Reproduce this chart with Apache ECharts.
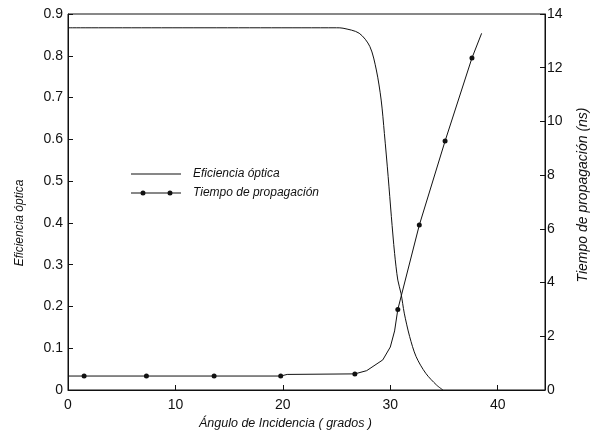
<!DOCTYPE html>
<html>
<head>
<meta charset="utf-8">
<script src="https://cdn.jsdelivr.net/npm/echarts@6/dist/echarts.min.js"></script>
<style>
  html, body { margin: 0; padding: 0; background: #fff; }
  #main { width: 598px; height: 435px; }
</style>
</head>
<body>
<div id="main"></div>
<script>
// Eficiencia óptica (eje izquierdo)
var efAngulo = [0, 25.0, 25.6, 27.1, 28.1, 28.7, 29.15, 29.45, 29.8, 30.1, 30.4, 30.7, 31.0, 31.3, 31.8, 32.4, 33.3, 34.3, 34.9];
var efValor  = [0.867, 0.867, 0.866, 0.854, 0.822, 0.766, 0.694, 0.614, 0.511, 0.415, 0.327, 0.263, 0.231, 0.184, 0.128, 0.080, 0.040, 0.012, 0];

// Tiempo de propagación (eje derecho, ns)
var tpAngulo = [0, 1.5, 7.3, 13.6, 19.8, 20.4, 26.7, 27.8, 29.3, 30.0, 30.4, 30.7, 32.7, 35.1, 37.6, 38.5];
var tpValor  = [0.52, 0.52, 0.52, 0.52, 0.52, 0.58, 0.6, 0.72, 1.12, 1.6, 2.2, 3.0, 6.14, 9.27, 12.36, 13.28];
var tpMarca  = [false, true, true, true, true, false, true, false, false, false, false, true, true, true, true, false];

var nombres = ['Eficiencia óptica', 'Tiempo de propagación'];

var fuente = 'Liberation Sans, Arial, sans-serif';
var negro = '#111';

var efData = efAngulo.map(function (x, i) { return [x, efValor[i]]; });
var tpData = tpAngulo.map(function (x, i) {
  var d = { value: [x, tpValor[i]] };
  if (!tpMarca[i]) d.symbol = 'none';
  return d;
});

var myChart = echarts.init(document.getElementById('main'));

var option = {
  backgroundColor: '#fff',
  animation: false,
  grid: {
    left: 68, right: 52, top: 14, bottom: 45,
    show: true, borderColor: negro, borderWidth: 1, backgroundColor: 'transparent'
  },
  legend: {
    left: 131, top: 167, orient: 'vertical', padding: 0,
    itemWidth: 50, itemHeight: 6, itemGap: 5,
    textStyle: { fontFamily: fuente, fontSize: 12, fontStyle: 'italic', color: negro, lineHeight: 14, padding: [0, 0, 0, 7] },
    data: [
      { name: nombres[0], icon: 'path://M0,2.5H50V3.5H0Z' },
      { name: nombres[1], icon: 'path://M0,2.5H50V3.5H0Z M9.5,3a2.5,2.5 0 1,1 5,0a2.5,2.5 0 1,1 -5,0Z M36.5,3a2.5,2.5 0 1,1 5,0a2.5,2.5 0 1,1 -5,0Z' }
    ]
  },
  xAxis: {
    type: 'value', min: 0, max: 44.4, interval: 10,
    name: 'Ángulo de Incidencia ( grados )', nameLocation: 'middle', nameGap: 24,
    nameTextStyle: { fontFamily: fuente, fontSize: 12.5, fontStyle: 'italic', color: negro, padding: [0, 42, 0, 0] },
    axisLine: { lineStyle: { color: negro } },
    axisTick: { inside: true, length: 5, lineStyle: { color: negro } },
    axisLabel: { fontFamily: fuente, fontSize: 14, color: negro, margin: 8, showMaxLabel: false },
    splitLine: { show: false }
  },
  yAxis: [
    {
      type: 'value', min: 0, max: 0.9, interval: 0.1,
      name: 'Eficiencia óptica', nameLocation: 'middle', nameGap: 42,
      nameTextStyle: { fontFamily: fuente, fontSize: 12, fontStyle: 'italic', color: negro, padding: [0, 42, 0, 0] },
      axisLine: { show: true, lineStyle: { color: negro } },
      axisTick: { show: true, inside: true, length: 5, lineStyle: { color: negro } },
      axisLabel: { fontFamily: fuente, fontSize: 14, color: negro, margin: 5,
        formatter: function (v) { return v === 0 ? '0' : v.toFixed(1); } },
      splitLine: { show: false }
    },
    {
      type: 'value', min: 0, max: 14, interval: 2, position: 'right',
      name: 'Tiempo de propagación (ns)', nameLocation: 'middle', nameGap: 31,
      nameTextStyle: { fontFamily: fuente, fontSize: 14, fontStyle: 'italic', color: negro, padding: [0, 0, 0, 14] },
      axisLine: { show: true, lineStyle: { color: negro } },
      axisTick: { show: true, inside: true, length: 5, lineStyle: { color: negro } },
      axisLabel: { fontFamily: fuente, fontSize: 14, color: negro, margin: 2 },
      splitLine: { show: false }
    }
  ],
  series: [
    {
      name: nombres[0], type: 'line', yAxisIndex: 0, data: efData,
      showSymbol: false, smooth: 0.3,
      lineStyle: { color: negro, width: 1 }, itemStyle: { color: negro }
    },
    {
      name: nombres[1], type: 'line', yAxisIndex: 1, data: tpData,
      symbol: 'circle', symbolSize: 5, showAllSymbol: true,
      lineStyle: { color: negro, width: 1 }, itemStyle: { color: negro }
    }
  ]
};

myChart.setOption(option);
window.onresize = function () { myChart.resize(); };
</script>
</body>
</html>
